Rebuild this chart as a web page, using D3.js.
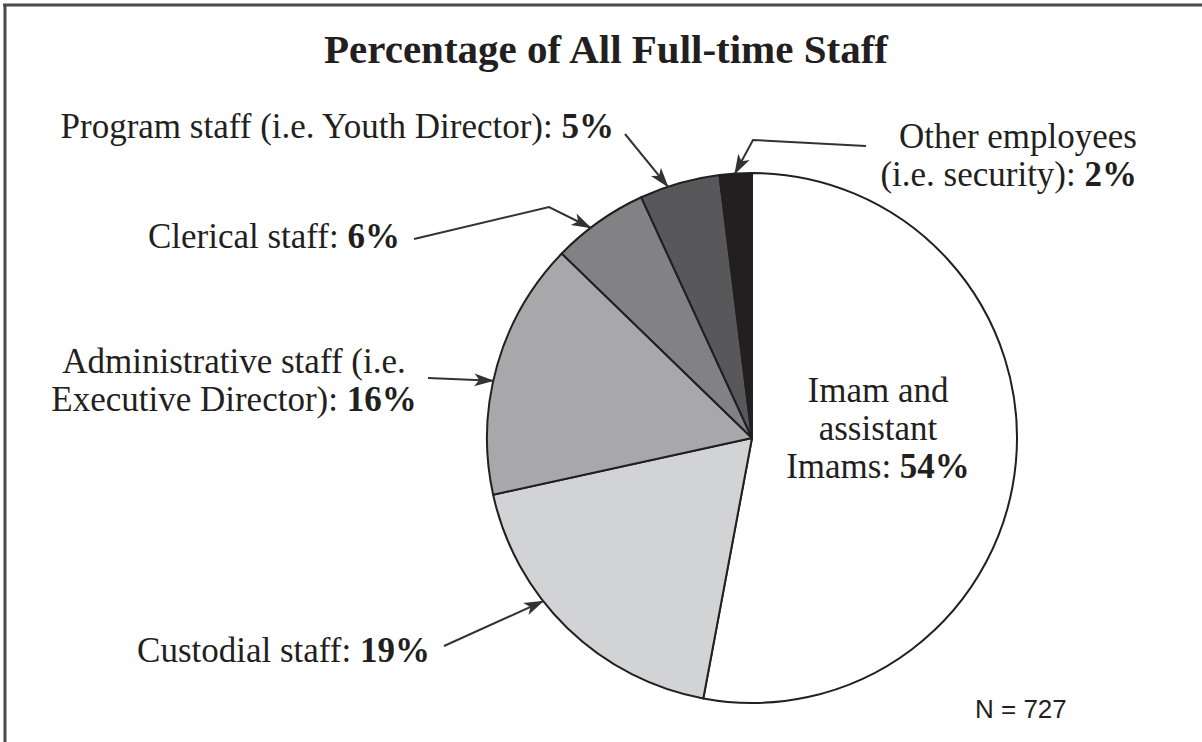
<!DOCTYPE html>
<html>
<head>
<meta charset="utf-8">
<script src="https://cdn.jsdelivr.net/npm/d3@7"></script>
<style>
  html, body { margin: 0; padding: 0; background: #fff; }
  svg { display: block; }
</style>
</head>
<body>
<svg id="chart" width="1202" height="742"></svg>
<script>
// ---- data ----
const categories = [
  "Imam and assistant Imams",
  "Custodial staff",
  "Administrative staff (i.e. Executive Director)",
  "Clerical staff",
  "Program staff (i.e. Youth Director)",
  "Other employees (i.e. security)"
];
const values = [54, 19, 16, 6, 5, 2];
const fills = ["#ffffff", "#d2d3d5", "#a8a8aa", "#828284", "#58585a", "#231f20"];
const labelLines = [
  ["Imam and", "assistant", "Imams: "],
  ["Custodial staff: "],
  ["Administrative staff (i.e.", "Executive Director): "],
  ["Clerical staff: "],
  ["Program staff (i.e. Youth Director): "],
  ["Other employees", "(i.e. security): "]
];
const title = "Percentage of All Full-time Staff";
const note = "N = 727";

// ---- layout ----
const W = 1202, H = 742;
const cx = 752, cy = 438, R = 265;
const serif = "'Liberation Serif', 'DejaVu Serif', serif";
const fs = 35;
const lh = 38;

// label layout: anchor, x, first baseline, arrow (points, then angle on the pie rim in degrees)
const labelLayout = [
  {anchor: "middle", x: 878, y: 402, arrow: null},
  {anchor: "end", x: 430, y: 662, arrow: {from: [[444, 646]], angle: 232}},
  {anchor: "middle", x: 234, y: 373, arrow: {from: [[428, 378]], angle: 282.5}},
  {anchor: "end", x: 400, y: 248, arrow: {from: [[414, 239], [549, 207]], angle: 322.5}},
  {anchor: "end", x: 614, y: 138, arrow: {from: [[625, 134]], angle: 341.5}},
  {anchor: "end", x: 1137, y: 148, arrow: {from: [[866, 146], [753, 140]], angle: 356.3}}
];

const svg = d3.select("#chart");

// frame
svg.append("line").attr("x1", 3).attr("x2", W).attr("y1", 5).attr("y2", 5)
  .attr("stroke", "#4a4a4a").attr("stroke-width", 3);
svg.append("line").attr("x1", 5).attr("x2", 5).attr("y1", 4).attr("y2", H)
  .attr("stroke", "#4a4a4a").attr("stroke-width", 3);

// title
svg.append("text").attr("x", 606).attr("y", 63).attr("text-anchor", "middle")
  .attr("font-family", serif).attr("font-weight", "bold").attr("font-size", 41)
  .attr("fill", "#231f20").text(title);

// pie
const pie = d3.pie().sort(null).value(d => d);
const arcs = pie(values);
const arc = d3.arc().innerRadius(0).outerRadius(R);
const g = svg.append("g").attr("transform", `translate(${cx},${cy})`);
g.selectAll("path").data(arcs).join("path")
  .attr("d", arc)
  .attr("fill", (d, i) => fills[i])
  .attr("stroke", "#231f20")
  .attr("stroke-width", 2)
  .attr("stroke-linejoin", "round");

// arrow marker
const defs = svg.append("defs");
defs.append("marker").attr("id", "ah")
  .attr("viewBox", "-20 -8 22 16").attr("refX", 0).attr("refY", 0)
  .attr("markerWidth", 22).attr("markerHeight", 16)
  .attr("markerUnits", "userSpaceOnUse").attr("orient", "auto")
  .append("path").attr("d", "M1,0 L-19,-6.5 L-14,0 L-19,6.5 Z").attr("fill", "#333");

// labels
labelLayout.forEach((L, i) => {
  const lines = labelLines[i];
  const t = svg.append("text").attr("text-anchor", L.anchor)
    .attr("font-family", serif).attr("font-size", fs).attr("fill", "#231f20");
  lines.forEach((ln, j) => {
    t.append("tspan").attr("x", L.x).attr("y", L.y + j * lh).text(ln);
    if (j === lines.length - 1) {
      t.append("tspan").attr("font-weight", "bold").text(values[i] + "%");
    }
  });
  if (L.arrow) {
    const a = L.arrow.angle * Math.PI / 180;
    const tip = [cx + R * Math.sin(a), cy - R * Math.cos(a)];
    const pts = L.arrow.from.concat([tip]);
    svg.append("path").attr("d", d3.line()(pts))
      .attr("fill", "none").attr("stroke", "#333").attr("stroke-width", 2)
      .attr("marker-end", "url(#ah)");
  }
});

// note
svg.append("text").attr("x", 975).attr("y", 718)
  .attr("font-family", "'Liberation Sans', Arial, sans-serif").attr("font-size", 26)
  .attr("fill", "#231f20").text(note);
</script>
</body>
</html>
